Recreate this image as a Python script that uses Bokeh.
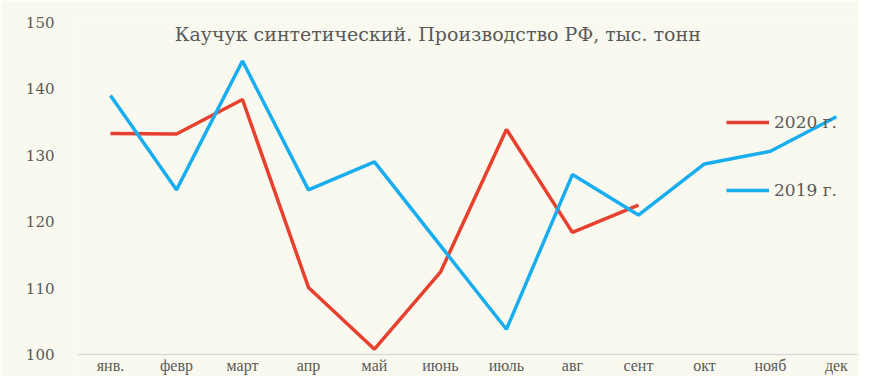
from bokeh.plotting import figure
from bokeh.models import Legend, LegendItem, Label, FixedTicker, Range1d, Span, ColumnDataSource
from bokeh.embed import file_html
from bokeh.resources import INLINE

months = ["янв.", "февр", "март", "апр", "май", "июнь", "июль", "авг", "сент", "окт", "нояб", "дек"]
y2020 = [133.3, 133.2, 138.4, 110.1, 100.8, 112.4, 133.9, 118.4, 122.5]
y2019 = [139.0, 124.8, 144.2, 124.8, 129.0, 116.4, 103.8, 127.1, 121.0, 128.7, 130.6, 135.8]
y_ticks = [100, 110, 120, 130, 140, 150]
title_text = "Каучук синтетический. Производство РФ, тыс. тонн"

BG = "#FAF9F0"
TXT = "#595959"
FONT = "DejaVu Serif"

p = figure(width=859, height=376, output_backend="svg", toolbar_location=None,
           x_range=Range1d(-0.5, 11.32), y_range=Range1d(96.69, 150),
           min_border_left=77, min_border_right=2, min_border_top=22, min_border_bottom=0)
p.background_fill_color = BG
p.border_fill_color = BG
p.outline_line_color = None
p.xgrid.visible = False
p.ygrid.visible = False

x19 = list(range(len(y2019)))
x20 = list(range(len(y2020)))
r20 = p.line(x20, y2020, line_color="#E8402F", line_width=3.5)
r19 = p.line(x19, y2019, line_color="#17ADEE", line_width=3.5)

# x axis drawn as baseline + month labels
p.xaxis.visible = False
p.add_layout(Span(location=y_ticks[0], dimension="width", line_color="#D9D9D9", line_width=1.5))
msrc = ColumnDataSource(dict(x=list(range(len(months))), y=[y_ticks[0]] * len(months), t=months))
p.text(x="x", y="y", text="t", source=msrc, y_offset=11,
       text_align="center", text_baseline="middle",
       text_font=FONT, text_font_size="16px", text_color=TXT)

p.yaxis.ticker = FixedTicker(ticks=y_ticks)
p.yaxis.axis_line_color = None
p.yaxis.major_tick_line_color = None
p.yaxis.minor_tick_line_color = None
p.yaxis.major_label_text_font = FONT
p.yaxis.major_label_text_font_size = "15px"
p.yaxis.major_label_text_color = TXT
p.yaxis.major_label_standoff = 17

p.add_layout(Label(x=4.96, y=148.3, text=title_text, text_align="center",
                   text_baseline="middle", text_font=FONT, text_font_size="19px",
                   text_color=TXT))

legend = Legend(items=[LegendItem(label="2020 г.", renderers=[r20]),
                       LegendItem(label="2019 г.", renderers=[r19])],
                location=(649, 176), orientation="vertical",
                glyph_width=43, glyph_height=20, label_height=20, spacing=48,
                label_standoff=5, padding=0, margin=0,
                background_fill_alpha=0, border_line_alpha=0,
                label_text_font=FONT, label_text_font_size="17px", label_text_color=TXT)
p.add_layout(legend)

open("out.html", "w").write(file_html(p, INLINE))
